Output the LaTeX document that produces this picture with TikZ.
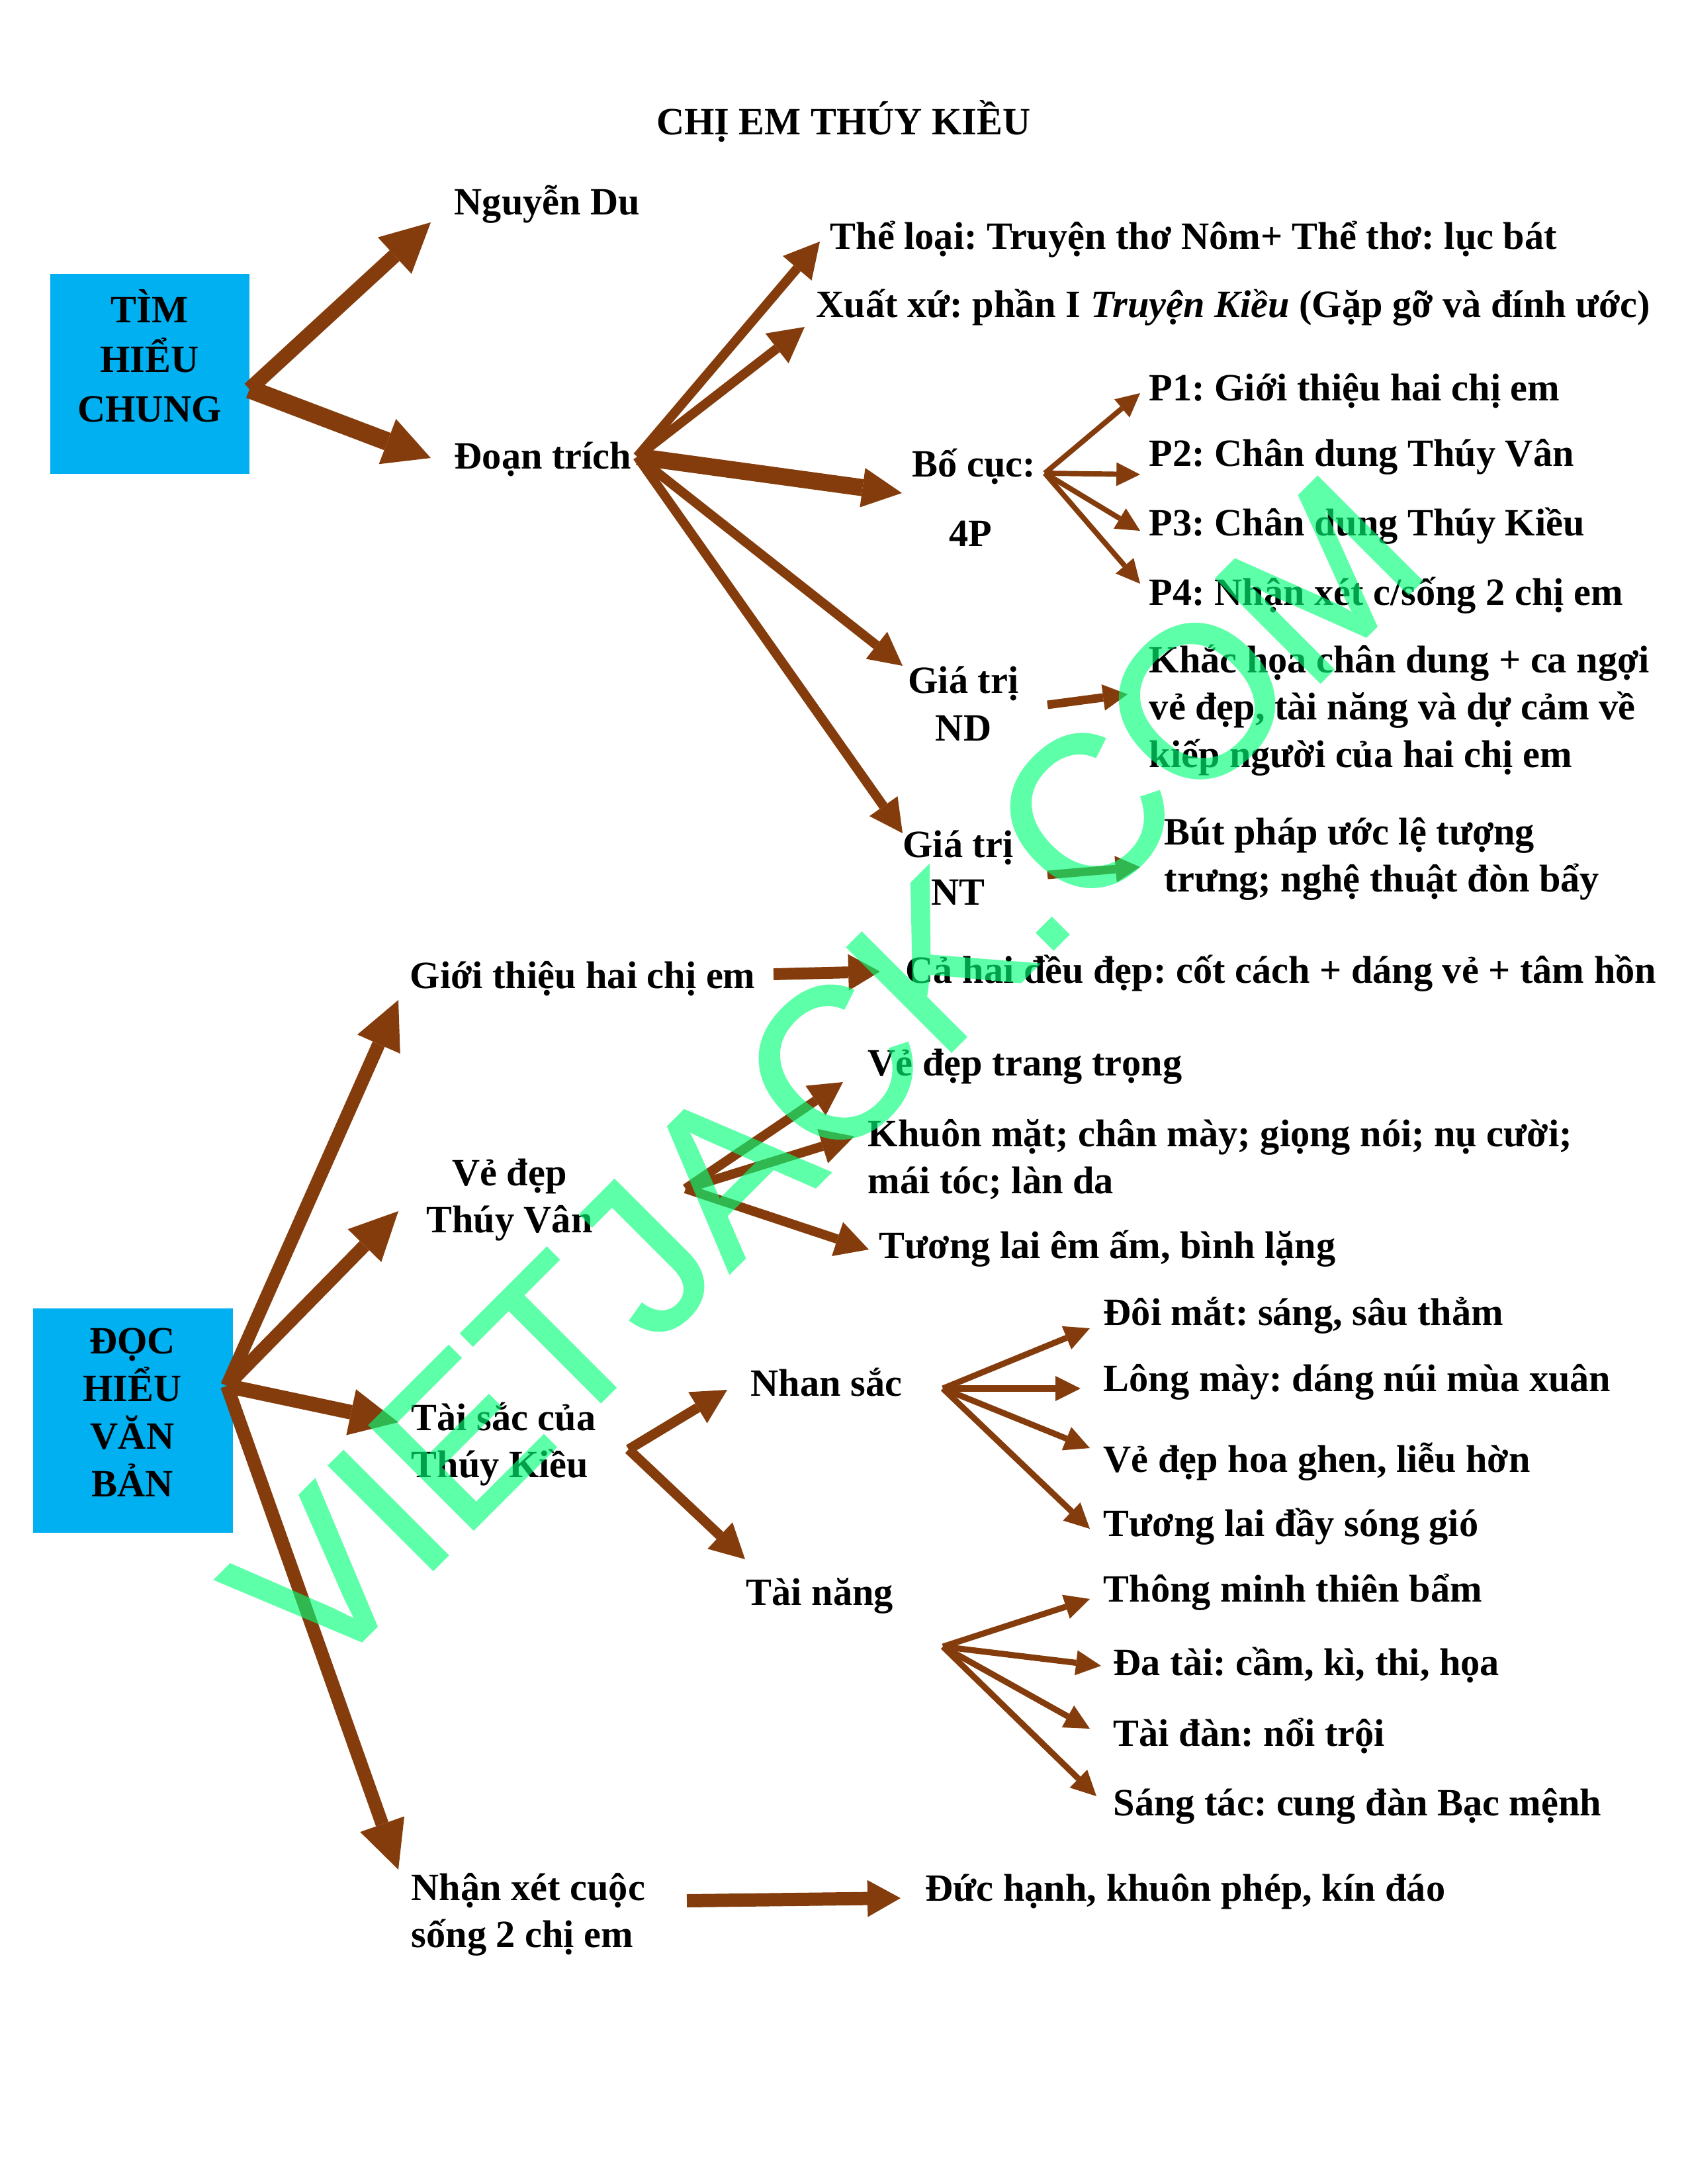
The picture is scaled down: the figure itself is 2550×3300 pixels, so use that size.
\documentclass[tikz,border=0pt]{standalone}
\usepackage{fontspec}
\setmainfont{Liberation Serif}
\newfontfamily\wmfont[FakeBold=1.2]{Liberation Sans}
\usetikzlibrary{arrows.meta}
\definecolor{brn}{RGB}{132,60,12}
\definecolor{boxblue}{RGB}{0,176,240}
\definecolor{wmgreen}{RGB}{0,255,120}
\frenchspacing
\begin{document}
\begin{tikzpicture}[x=0.24pt,y=-0.24pt,
  txt/.style={inner sep=0pt, anchor=west, font=\fontsize{14}{17.2}\selectfont\bfseries, text=black},
  ctxt/.style={txt, anchor=center, align=center},
  ltxt/.style={txt, align=left},
  boxst/.style={fill=boxblue, inner sep=0pt},
  ar/.style n args={3}{draw=brn, line width=#1pt, -{Triangle[length=#2pt, width=#3pt, line width=0pt]}}]
\fill[white] (0,0) rectangle (2550,3300);
\useasboundingbox (0,0) rectangle (2550,3300);

% title
\node[ctxt] (title) at (1275,183) {CHỊ EM THÚY KIỀU};

% boxes
\node[boxst, minimum width=72.2pt, minimum height=72.5pt] (box1) at (226.5,565) {};
\node[ctxt, font=\fontsize{14}{18}\selectfont\bfseries] (tbox1) at (226,538) {TÌM\\HIỂU\\CHUNG};
\node[boxst, minimum width=72.5pt, minimum height=81.4pt] (box2) at (201,2146.5) {};
\node[ctxt, font=\fontsize{14}{17.3}\selectfont\bfseries] (tbox2) at (200,2134.5) {ĐỌC\\HIỂU\\VĂN\\BẢN};

% upper texts
\node[txt] (nguyen) at (686,309) {Nguyễn Du};
\node[txt] (doan) at (686,694) {Đoạn trích};
\node[txt] (theloai) at (1254,362) {Thể loại: Truyện thơ Nôm+ Thể thơ: lục bát};
\node[txt] (xuatxu) at (1233,465) {Xuất xứ: phần I \textit{Truyện Kiều} (Gặp gỡ và đính ước)};
\node[txt] (bocuc) at (1378,705) {Bố cục:};
\node[ctxt] (fourp) at (1467,806) {4P};
\node[ctxt] (gtnd) at (1456,1063) {Giá trị\\ND};
\node[ctxt] (gtnt) at (1448,1311) {Giá trị\\NT};
\node[txt] (p1) at (1736,591) {P1: Giới thiệu hai chị em};
\node[txt] (p2) at (1736,690) {P2: Chân dung Thúy Vân};
\node[txt] (p3) at (1736,795) {P3: Chân dung Thúy Kiều};
\node[txt] (p4) at (1736,900) {P4: Nhận xét c/sống 2 chị em};
\node[ltxt] (khachoa) at (1736,1073) {Khắc họa chân dung + ca ngợi\\vẻ đẹp, tài năng và dự cảm về\\kiếp người của hai chị em};
\node[ltxt] (butphap) at (1759,1298) {Bút pháp ước lệ tượng\\trưng; nghệ thuật đòn bẩy};

% lower texts
\node[txt] (gioithieu) at (619,1479) {Giới thiệu hai chị em};
\node[txt] (cahai) at (1368,1471) {Cả hai đều đẹp: cốt cách + dáng vẻ + tâm hồn};
\node[ctxt] (vedep) at (770,1813) {Vẻ đẹp\\Thúy Vân};
\node[txt] (trangtrong) at (1311,1612) {Vẻ đẹp trang trọng};
\node[ltxt] (khuonmat) at (1311,1752) {Khuôn mặt; chân mày; giọng nói; nụ cười;\\mái tóc; làn da};
\node[txt] (tuonglai1) at (1328,1887) {Tương lai êm ấm, bình lặng};
\node[ltxt] (taisac) at (621,2182) {Tài sắc của\\Thúy Kiều};
\node[txt] (nhansac) at (1134,2089) {Nhan sắc};
\node[txt] (tainang) at (1127,2411) {Tài năng};
\node[txt] (doimat) at (1667,1988) {Đôi mắt: sáng, sâu thẳm};
\node[txt] (longmay) at (1667,2088) {Lông mày: dáng núi mùa xuân};
\node[txt] (vedephoa) at (1667,2209) {Vẻ đẹp hoa ghen, liễu hờn};
\node[txt] (tuonglai2) at (1667,2307) {Tương lai đầy sóng gió};
\node[txt] (thongminh) at (1667,2406) {Thông minh thiên bẩm};
\node[txt] (datai) at (1682,2516) {Đa tài: cầm, kì, thi, họa};
\node[txt] (taidan) at (1682,2623) {Tài đàn: nổi trội};
\node[txt] (sangtac) at (1682,2729) {Sáng tác: cung đàn Bạc mệnh};
\node[ltxt] (nhanxet) at (621,2893) {Nhận xét cuộc\\sống 2 chị em};
\node[txt] (duchanh) at (1398,2858) {Đức hạnh, khuôn phép, kín đáo};

% hubs and tips
\coordinate (hA) at (377,588);
\coordinate (hB) at (963,690);
\coordinate (hC) at (1579,715);
\coordinate (hD) at (343,2094);
\coordinate (hE) at (1036,1796);
\coordinate (hF) at (950,2190);
\coordinate (hG) at (1425,2098);
\coordinate (hH) at (1425,2488);

\coordinate (tA1) at (651,336);
\coordinate (tA2) at (651,692);
\coordinate (tB1) at (1239,365);
\coordinate (tB2) at (1216,494);
\coordinate (tB3) at (1363,745);
\coordinate (tB4) at (1364,1006);
\coordinate (tB5) at (1364,1259);
\coordinate (tC1) at (1723,594);
\coordinate (tC2) at (1723,717);
\coordinate (tC3) at (1723,802);
\coordinate (tC4) at (1723,882);
\coordinate (sND) at (1583,1065);
\coordinate (tND) at (1704,1049);
\coordinate (sNT) at (1583,1322);
\coordinate (tNT) at (1723,1310);
\coordinate (tD1) at (602,1511);
\coordinate (tD2) at (602,1830);
\coordinate (tD3) at (602,2149);
\coordinate (tD4) at (602,2825);
\coordinate (sGT) at (1169,1472);
\coordinate (tGT) at (1330,1468);
\coordinate (tE1) at (1274,1635);
\coordinate (tE2) at (1291,1717);
\coordinate (tE3) at (1313,1888);
\coordinate (tF1) at (1099,2100);
\coordinate (tF2) at (1126,2356);
\coordinate (tG1) at (1647,2007);
\coordinate (tG2) at (1633,2098);
\coordinate (tG3) at (1647,2188);
\coordinate (tG4) at (1647,2310);
\coordinate (tH1) at (1647,2416);
\coordinate (tH2) at (1664,2517);
\coordinate (tH3) at (1647,2612);
\coordinate (tH4) at (1657,2714);
\coordinate (sNX) at (1038,2872);
\coordinate (tNX) at (1361,2868);

% arrows
\draw[ar={5.3}{17.8}{18}] (hA) -- (tA1);
\draw[ar={6.7}{16.8}{17.5}] (hA) -- (tA2);
\draw[ar={3.4}{12.7}{13.7}] (hB) -- (tB1);
\draw[ar={3.4}{12.7}{13.7}] (hB) -- (tB2);
\draw[ar={6.2}{14.4}{14.4}] (hB) -- (tB3);
\draw[ar={3.4}{12}{12.5}] (hB) -- (tB4);
\draw[ar={3.4}{12}{12.5}] (hB) -- (tB5);
\foreach \t in {tC1,tC2,tC3,tC4} \draw[ar={1.9}{8.6}{8.6}] (hC) -- (\t);
\draw[ar={3.1}{8.9}{9.6}] (sND) -- (tND);
\draw[ar={3.1}{8.9}{9.6}] (sNT) -- (tNT);
\draw[ar={4.8}{17.5}{17}] (hD) -- (tD1);
\draw[ar={4.8}{17.5}{17}] (hD) -- (tD2);
\draw[ar={5.3}{17.5}{17}] (hD) -- (tD3);
\draw[ar={4.8}{17.5}{17}] (hD) -- (tD4);
\draw[ar={4.3}{11.5}{13.2}] (sGT) -- (tGT);
\foreach \t in {tE1,tE2,tE3} \draw[ar={3.4}{12}{13}] (hE) -- (\t);
\draw[ar={3.6}{12.5}{13.2}] (hF) -- (tF1);
\draw[ar={3.6}{12.5}{13.2}] (hF) -- (tF2);
\foreach \t in {tG1,tG2,tG3,tG4} \draw[ar={2.2}{9.1}{9.1}] (hG) -- (\t);
\foreach \t in {tH1,tH2,tH3,tH4} \draw[ar={2.2}{9.1}{9.1}] (hH) -- (\t);
\draw[ar={4.8}{12}{13.4}] (sNX) -- (tNX);

% watermark
\begin{scope}[transparency group, opacity=0.63]
\node[font=\wmfont\fontsize{77.4}{77.4}\selectfont, text=wmgreen,
      rotate=45, anchor=base west, inner sep=0pt] (wm) at (481,2545) {VIETJACK.COM};
\end{scope}
\end{tikzpicture}
\end{document}
